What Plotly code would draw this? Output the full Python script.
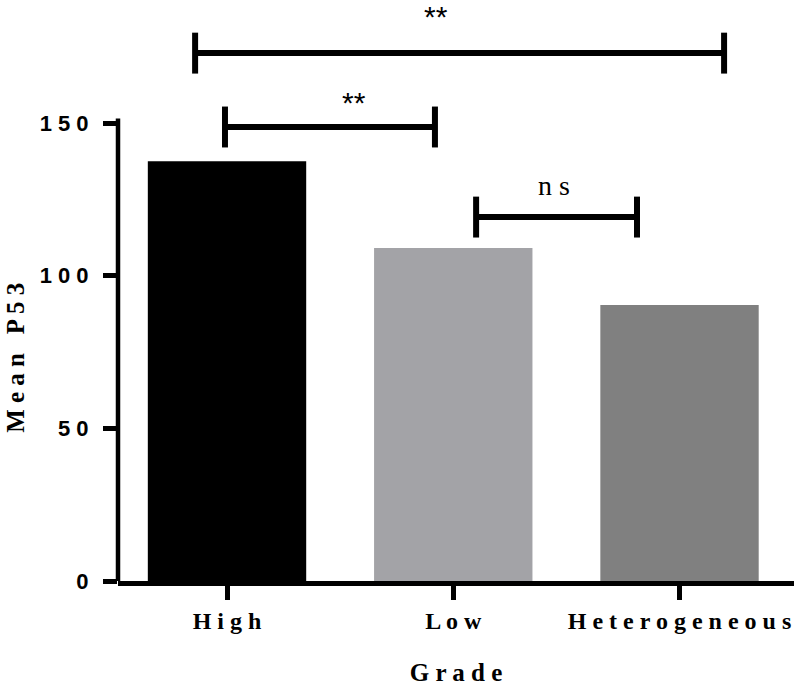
import plotly.graph_objects as go

# ---- data ----
categories = ["High", "Low", "Heterogeneous"]
tick_labels = ["H i g h", "L o w", "H e t e r o g e n e o u s"]
mean_p53 = [137.5, 109.1, 90.4]
bar_colors = ["#000000", "#A3A3A7", "#808080"]

y_tickvals = [0, 50, 100, 150]
y_ticktext = ["0", "5 0", "1 0 0", "1 5 0"]
y_title = "M e a n   P 5 3"
x_title = "G r a d e"

# significance brackets (x in category index units, y in data units)
bracket_x0 = [-0.141, -0.009, 1.101]
bracket_x1 = [2.197, 0.919, 1.812]
bracket_y = [172.9, 148.7, 119.2]
bracket_label = ["**", "**", "n s"]
label_x = [0.924, 0.561, 1.445]
label_y = [185.0, 156.7, 129.5]

CAP = 6.7  # half height of bracket end caps (data units)

fig = go.Figure()
fig.add_trace(go.Bar(
    x=categories, y=mean_p53, width=0.70,
    marker=dict(color=bar_colors, line=dict(width=0)),
    showlegend=False, hoverinfo="x+y",
))

shapes = []
for x0, x1, y in zip(bracket_x0, bracket_x1, bracket_y):
    lw = 6
    shapes.append(dict(type="line", xref="x", yref="y", x0=x0, x1=x1, y0=y, y1=y,
                       line=dict(color="black", width=lw)))
    for xx in (x0, x1):
        shapes.append(dict(type="line", xref="x", yref="y", x0=xx, x1=xx,
                           y0=y - CAP, y1=y + CAP, line=dict(color="black", width=lw)))
# y axis line that stops at the top tick
shapes.append(dict(type="line", xref="paper", yref="y", x0=0, x1=0,
                   y0=-2, y1=y_tickvals[-1] + 1.5,
                   line=dict(color="black", width=4.5)))

annotations = []
for txt, x, y in zip(bracket_label, label_x, label_y):
    if txt.startswith("*"):
        font = dict(family="Liberation Sans", size=30, color="black")
    else:
        font = dict(family="Liberation Serif", size=28, color="black")
    annotations.append(dict(x=x, y=y, xref="x", yref="y", text=txt, showarrow=False,
                            xanchor="center", yanchor="middle", font=font))
# y axis title, centred on the drawn part of the axis
annotations.append(dict(x=-0.151, y=0.384, xref="paper", yref="paper", text=y_title,
                        textangle=-90, showarrow=False, xanchor="center", yanchor="middle",
                        font=dict(family="Liberation Serif", size=25, color="black",
                                  weight="bold")))

fig.update_layout(
    width=797, height=686,
    margin=dict(l=118, r=3, t=0, b=105),
    paper_bgcolor="white", plot_bgcolor="white",
    shapes=shapes, annotations=annotations,
    bargap=0.3,
    xaxis=dict(
        type="category", range=[-0.4818, 2.506], automargin=False,
        tickvals=categories, ticktext=tick_labels,
        showline=True, linecolor="black", linewidth=4.5,
        ticks="outside", ticklen=14, tickwidth=4.5, tickcolor="black",
        tickfont=dict(family="Liberation Serif", size=24, color="black", weight="bold"),
        showgrid=False, zeroline=False,
        title=dict(text=x_title, standoff=40,
                   font=dict(family="Liberation Serif", size=25, color="black", weight="bold")),
    ),
    yaxis=dict(
        range=[0, 190.3], automargin=False,
        tickvals=y_tickvals, ticktext=y_ticktext,
        showline=False, ticklabelstandoff=10,
        ticks="outside", ticklen=14, tickwidth=4.5, tickcolor="black",
        tickfont=dict(family="Liberation Sans", size=22, color="black", weight="bold"),
        showgrid=False, zeroline=False,
    ),
)

fig.write_html("out.html", config={"displayModeBar": False},
               post_script="document.body.style.margin='0';document.body.style.padding='0';")
